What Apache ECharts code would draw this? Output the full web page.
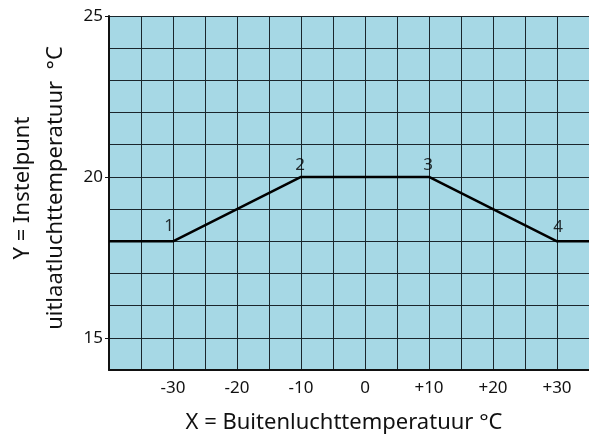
<!DOCTYPE html>
<html>
<head>
<meta charset="utf-8">
<script src="https://cdn.jsdelivr.net/npm/echarts@6/dist/echarts.min.js"></script>
<style>
html,body{margin:0;padding:0;background:#fff;}
#chart{width:589px;height:437px;}
</style>
</head>
<body>
<div id="chart"></div>
<script>
// Data
var outsideTemp = [-40, -30, -10, 10, 30, 35];
var setpoint = [18, 18, 20, 20, 18, 18];
var pointX = [-30, -10, 10, 30];
var pointY = [18, 20, 20, 18];
var pointLabels = ['1', '2', '3', '4'];
var xTickLabels = [-30, -20, -10, 0, 10, 20, 30];
var yTickLabels = [15, 20, 25];

// label placement styles (not data)
var labelOffsets = [[-4, -4], [-1, 0], [-1, 0], [1, -3]];

var lineData = outsideTemp.map(function (x, i) { return [x, setpoint[i]]; });
var pointData = pointX.map(function (x, i) {
  return { value: [x, pointY[i]], label: { formatter: pointLabels[i], offset: labelOffsets[i] } };
});

var chart = echarts.init(document.getElementById('chart'), null, { renderer: 'canvas' });
var font = 'Noto Sans';
chart.setOption({
  animation: false,
  backgroundColor: '#ffffff',
  grid: { left: 109, top: 16, right: 0, bottom: 67, show: true, backgroundColor: '#a6d8e5', borderWidth: 0, outerBoundsMode: 'none', containLabel: false },
  xAxis: {
    type: 'value', min: -40, max: 35, interval: 5,
    name: 'X = Buitenluchttemperatuur °C',
    nameLocation: 'middle', nameGap: 42,
    nameTextStyle: { fontFamily: font, fontSize: 22, color: '#111', padding: [0, 10, 0, 0] },
    axisLine: { show: true, onZero: false, lineStyle: { color: '#111', width: 2 } },
    axisTick: { show: false },
    splitLine: { show: true, lineStyle: { color: '#1a262c', width: 1 } },
    axisLabel: {
      customValues: xTickLabels,
      fontFamily: font, fontSize: 17, color: '#111', margin: 10,
      formatter: function (v) { return v > 0 ? '+' + v : String(v); }
    }
  },
  yAxis: [{
    type: 'value', min: 14, max: 25, interval: 1,
    axisLine: { show: false },
    axisTick: { show: false },
    axisLabel: { show: false },
    splitLine: { show: true, lineStyle: { color: '#1a262c', width: 1 } }
  }, {
    type: 'value', min: 14, max: 25, interval: 1, position: 'left',
    name: 'Y = Instelpunt\nuitlaatluchttemperatuur  °C',
    nameLocation: 'middle', nameGap: 34, nameRotate: 90,
    nameTextStyle: { fontFamily: font, fontSize: 22, color: '#111', lineHeight: 33, align: 'center', padding: [0, 0, 0, 10] },
    axisLine: { show: true, onZero: false, lineStyle: { color: '#111', width: 2 } },
    axisTick: { show: true, customValues: yTickLabels, length: 4, lineStyle: { color: '#111', width: 1 } },
    splitLine: { show: false },
    axisLabel: {
      customValues: yTickLabels,
      fontFamily: font, fontSize: 17, color: '#111', margin: 6
    }
  }],
  series: [{
    type: 'line',
    data: lineData,
    showSymbol: false,
    symbol: 'none',
    lineStyle: { color: '#000', width: 2.5 }
  }, {
    type: 'scatter',
    data: pointData,
    symbolSize: 0,
    label: { show: true, position: 'top', distance: 3, fontFamily: font, fontSize: 17, color: '#000' }
  }]
});
</script>
</body>
</html>
